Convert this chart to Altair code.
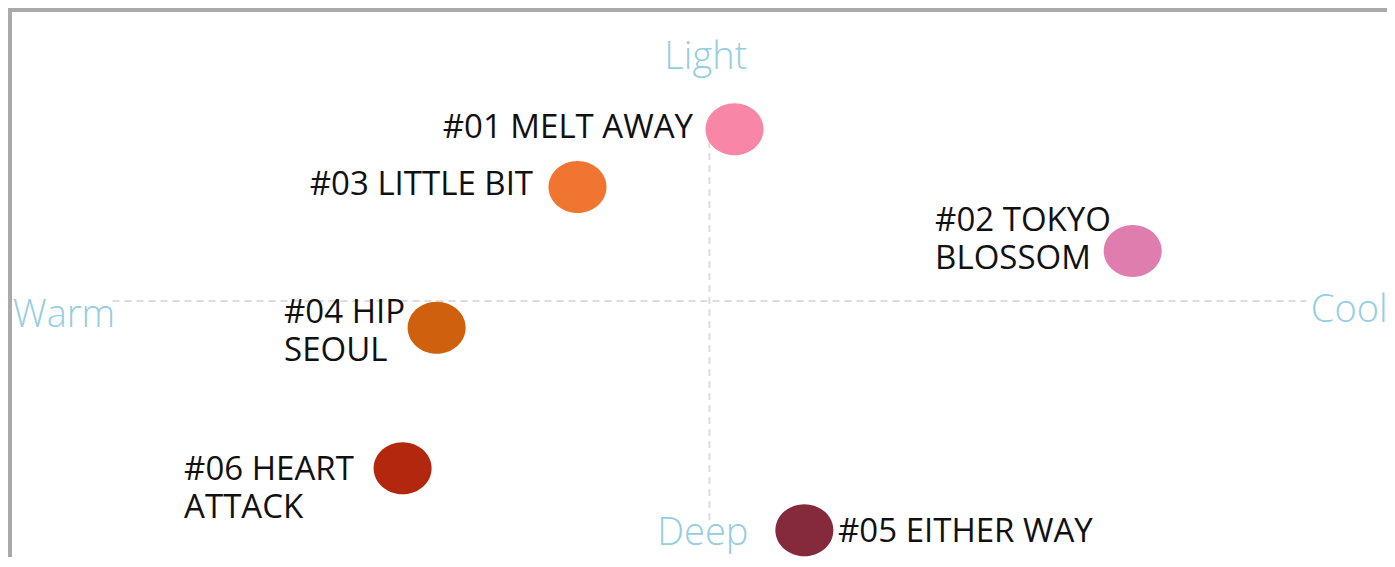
import altair as alt
import pandas as pd

# Data (warm/cool on x, deep/light on y)
names = ["#01 MELT AWAY", "#02 TOKYO\nBLOSSOM", "#03 LITTLE BIT",
         "#04 HIP\nSEOUL", "#05 EITHER WAY", "#06 HEART\nATTACK"]
warm_cool = [0.42, 7.09, -2.21, -4.57, 1.59, -5.14]
light_deep = [5.86, 1.71, 3.89, -0.91, -7.82, -5.71]
colors = ["#F887A7", "#DF7DAE", "#F07530", "#CF610E", "#85293D", "#B2270D"]
label_x = [-0.275, 3.78, -2.955, -7.126, 2.154, -8.80]
label_y = [5.56, 2.39, 3.62, -0.75, -8.23, -6.11]
label_align = ["right", "left", "right", "left", "left", "left"]

pole_names = ["Light", "Deep", "Warm", "Cool"]
pole_x = [-0.06, -0.11, -11.67, 11.36]
pole_y = [7.92, -8.33, -0.89, -0.72]
pole_align = ["center", "center", "left", "right"]

h_line = {"x": [-10.0], "x2": [10.0], "y": [0.0]}
v_line = {"x": [0.0], "y": [-7.47], "y2": [6.45]}

pts = pd.DataFrame({"name": names, "x": warm_cool, "y": light_deep, "color": colors,
                    "lx": label_x, "ly": label_y, "align": label_align})
poles = pd.DataFrame({"name": pole_names, "x": pole_x, "y": pole_y, "align": pole_align})

W, H = 1379, 549
xs = alt.Scale(domain=[-11.75, 11.35], range=[0, W], nice=False, zero=False)
ys = alt.Scale(domain=[-8.6, 10], range=[545, 0], nice=False, zero=False)

k = 0.897
c = 0.5523
ellipse = (f"M1,0 C1,{c*k:.4f} {c},{k} 0,{k} C-{c},{k} -1,{c*k:.4f} -1,0 "
           f"C-1,-{c*k:.4f} -{c},-{k} 0,-{k} C{c},-{k} 1,-{c*k:.4f} 1,0 Z")

base = alt.Chart(pts)

hl = alt.Chart(pd.DataFrame(h_line)).mark_rule(
    color="#DDDDDD", strokeWidth=2, strokeDash=[7, 5]
).encode(x=alt.X("x:Q", scale=xs, axis=None), x2="x2:Q", y=alt.Y("y:Q", scale=ys, axis=None))

vl = alt.Chart(pd.DataFrame(v_line)).mark_rule(
    color="#DDDDDD", strokeWidth=2, strokeDash=[7, 5]
).encode(x=alt.X("x:Q", scale=xs, axis=None), y=alt.Y("y:Q", scale=ys, axis=None), y2="y2:Q")

dots = base.mark_point(shape=ellipse, filled=True, size=3364, opacity=1).encode(
    x=alt.X("x:Q", scale=xs, axis=None),
    y=alt.Y("y:Q", scale=ys, axis=None),
    color=alt.Color("color:N", scale=None),
)

def label_layer(al):
    return base.transform_filter(alt.datum.align == al).mark_text(
        align=al, baseline="alphabetic", font="Open Sans", fontSize=33,
        color="#111111", lineBreak="\n", lineHeight=38
    ).encode(
        x=alt.X("lx:Q", scale=xs, axis=None),
        y=alt.Y("ly:Q", scale=ys, axis=None),
        text="name:N",
    )

def pole_layer(al):
    return alt.Chart(poles).transform_filter(alt.datum.align == al).mark_text(
        align=al, baseline="alphabetic", font="Open Sans", fontSize=38,
        fontWeight=300, color="#94CEE0"
    ).encode(
        x=alt.X("x:Q", scale=xs, axis=None),
        y=alt.Y("y:Q", scale=ys, axis=None),
        text="name:N",
    )

top_border = alt.Chart(pd.DataFrame({"a": [0]})).mark_rule(color="#AAAAAA", strokeWidth=4).encode(
    x=alt.value(0), x2=alt.value(W), y=alt.value(2))
left_border = alt.Chart(pd.DataFrame({"a": [0]})).mark_rule(color="#AAAAAA", strokeWidth=4).encode(
    x=alt.value(2), y=alt.value(0), y2=alt.value(H))

chart = alt.layer(
    hl, vl, dots,
    label_layer("right"), label_layer("left"),
    pole_layer("center"), pole_layer("left"), pole_layer("right"),
    top_border, left_border,
).properties(
    width=W, height=H, autosize=alt.AutoSizeParams(type="none"), padding=0
).configure_view(strokeWidth=0)

chart.save("out.html", embed_options={"renderer": "svg", "actions": False})
